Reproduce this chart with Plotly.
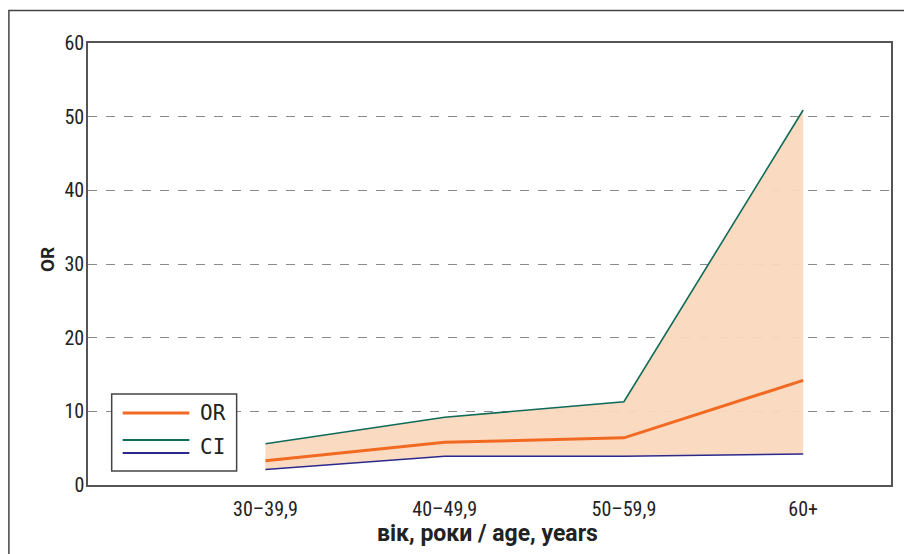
import plotly.graph_objects as go

age_groups = ["30–39,9", "40–49,9", "50–59,9", "60+"]
or_values = [3.3, 5.8, 6.4, 14.2]
ci_upper = [5.6, 9.2, 11.3, 50.9]
ci_lower = [2.1, 3.9, 3.9, 4.2]
y_ticks = [0, 10, 20, 30, 40, 50, 60]

ORANGE = "#f26a22"
TEAL = "#0f6b58"
NAVY = "#2b2a8c"
FILL = "rgba(250,216,190,0.95)"
TICKFONT = "Roboto Condensed, Liberation Sans Narrow, DejaVu Sans Condensed, sans-serif"
TITLEFONT = "Roboto, Liberation Sans, sans-serif"
MONO = "DejaVu Sans Mono, Liberation Mono, monospace"

fig = go.Figure()
fig.add_trace(go.Scatter(x=age_groups, y=ci_lower, mode="lines",
                         line=dict(width=0), hoverinfo="skip", showlegend=False))
fig.add_trace(go.Scatter(x=age_groups, y=ci_upper, mode="lines", fill="tonexty",
                         fillcolor=FILL, line=dict(width=0), hoverinfo="skip", showlegend=False))
fig.add_trace(go.Scatter(x=age_groups, y=ci_upper, mode="lines",
                         line=dict(color=TEAL, width=1.6), name="CI", showlegend=False))
fig.add_trace(go.Scatter(x=age_groups, y=ci_lower, mode="lines",
                         line=dict(color=NAVY, width=1.6), name="CI", showlegend=False))
fig.add_trace(go.Scatter(x=age_groups, y=or_values, mode="lines",
                         line=dict(color=ORANGE, width=3), name="OR", showlegend=False))

# page body has an 8px margin, so the figure is 904x546 placed at (8,8)
fig.update_layout(
    width=904, height=546,
    margin=dict(l=80, r=21, t=35, b=69),
    plot_bgcolor="white", paper_bgcolor="white",
    showlegend=False,
    xaxis=dict(type="category", range=[-0.99, 3.49], showgrid=False,
               showline=True, linecolor="#555", linewidth=1.5, mirror=True,
               ticks="", tickfont=dict(family=TICKFONT, size=20, color="#222"),
               ticklabelstandoff=5),
    yaxis=dict(range=[0, 60], tickvals=y_ticks, showgrid=True, gridcolor="#8a8a8a",
               griddash="dash", gridwidth=1, zeroline=False,
               showline=True, linecolor="#555", linewidth=1.5, mirror=True,
               ticks="", ticklabelstandoff=-2,
               tickfont=dict(family=TICKFONT, size=20, color="#222")),
)

# outer frame
fig.add_shape(type="path", xref="paper", yref="paper",
              path="M -0.0985,-0.3 L -0.0985,1.0735 L 1.2,1.0735",
              line=dict(color="#444", width=1.5))

# legend box
fig.add_shape(type="rect", xref="paper", yref="paper",
              x0=0.0295, x1=0.1851, y0=0.0317, y1=0.2059,
              line=dict(color="#444", width=1.5), fillcolor="white")
for yy, col in [(0.1629, ORANGE), (0.1018, TEAL), (0.0724, NAVY)]:
    fig.add_shape(type="line", xref="paper", yref="paper",
                  x0=0.0432, x1=0.1262, y0=yy, y1=yy,
                  line=dict(color=col, width=3 if col == ORANGE else 2))
fig.add_annotation(xref="paper", yref="paper", x=0.137, y=0.1629, text="OR",
                   showarrow=False, xanchor="left", yanchor="middle",
                   font=dict(family=MONO, size=21, color="#222"))
fig.add_annotation(xref="paper", yref="paper", x=0.137, y=0.0867, text="CI",
                   showarrow=False, xanchor="left", yanchor="middle",
                   font=dict(family=MONO, size=21, color="#222"))

# y axis title
fig.add_annotation(xref="paper", yref="paper", x=-0.0504, y=0.510, text="<b>OR</b>",
                   showarrow=False, textangle=-90, xanchor="center", yanchor="middle",
                   font=dict(family=TITLEFONT, size=19, color="#222"))

# x axis title
fig.add_annotation(xref="paper", yref="paper", x=0.498, y=-0.110, text="<b>вік, роки / age, years</b>",
                   showarrow=False, xanchor="center", yanchor="middle",
                   font=dict(family=TITLEFONT, size=23, color="#222"))

fig.write_html("out.html")
